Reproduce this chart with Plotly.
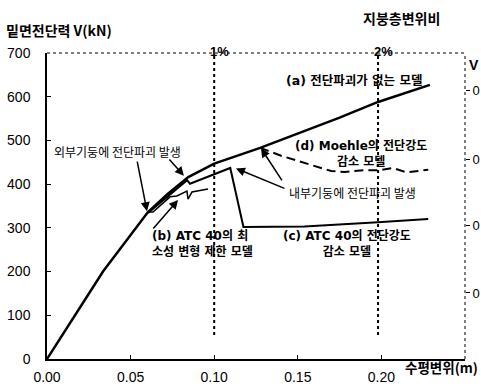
import plotly.graph_objects as go

# ---- data ----
# (a) model without shear failure
a_x = [0.0, 0.0168, 0.0335, 0.0604, 0.072, 0.0845, 0.100, 0.1275, 0.150, 0.175, 0.198, 0.229]
a_y = [0, 100, 200, 336, 377, 416, 447, 483, 516, 552, 588, 627]
# (b) ATC 40 minimum plastic deformation limit model
b_x = [0.0604, 0.0634, 0.0736, 0.0777, 0.0837, 0.0843, 0.0867, 0.0963]
b_y = [336, 336, 371, 373, 384, 366, 382, 389]
# (c) ATC 40 shear strength degradation model
c_x = [0.0604, 0.0838, 0.0855, 0.1096, 0.1175, 0.130, 0.154, 0.198, 0.228]
c_y = [334, 409, 401, 437, 302, 302, 303, 313, 320]
# (d) Moehle shear strength degradation model
d_x = [0.1275, 0.140, 0.157, 0.170, 0.178, 0.190, 0.199, 0.207, 0.215, 0.228]
d_y = [483, 465, 445, 430, 428, 432, 432, 437, 427, 433]

drift_x = [0.100, 0.198]
drift_labels = ["1%", "2%"]
drift_y = [55, 700]

y_ticks = [0, 100, 200, 300, 400, 500, 600, 700]
x_ticks = [0.00, 0.05, 0.10, 0.15, 0.20]
right_ticks = [151, 305, 456, 614]
right_labels = ["0", "0", "0", "0"]

KR = "Noto Sans CJK KR"
MIX = "DejaVu Sans, Noto Sans CJK KR"
LAT = "Liberation Sans"

fig = go.Figure()

for xv in drift_x:
    fig.add_trace(go.Scatter(x=[xv, xv], y=drift_y, mode="lines",
                             line=dict(color="black", width=2, dash="dot"),
                             showlegend=False, hoverinfo="skip"))

fig.add_trace(go.Scatter(x=b_x, y=b_y, mode="lines",
                         line=dict(color="black", width=1.5), showlegend=False))
fig.add_trace(go.Scatter(x=c_x, y=c_y, mode="lines",
                         line=dict(color="black", width=2), showlegend=False))
fig.add_trace(go.Scatter(x=d_x, y=d_y, mode="lines",
                         line=dict(color="black", width=2, dash="9px,5px"), showlegend=False))
fig.add_trace(go.Scatter(x=a_x, y=a_y, mode="lines",
                         line=dict(color="black", width=2.5), showlegend=False))
fig.add_trace(go.Scatter(x=[0.0], y=[0], yaxis="y2", mode="markers",
                         marker=dict(opacity=0), showlegend=False, hoverinfo="skip"))

anns = []

def txt(x, y, s, size=12, bold=True, xanchor="center", family=MIX, align="center"):
    anns.append(dict(x=x, y=y, xref="x", yref="y", text=f"<b>{s}</b>" if bold else s,
                     showarrow=False, xanchor=xanchor, yanchor="middle", align=align,
                     font=dict(family=family, size=size, color="black")))

def arrow(x, y, ax, ay):
    anns.append(dict(x=x, y=y, ax=ax, ay=ay, xref="x", yref="y", axref="x", ayref="y",
                     text="", showarrow=True, arrowhead=2, arrowsize=1.2,
                     arrowwidth=1.5, arrowcolor="black"))

txt(0.1836, 638, "(a) 전단파괴가 없는 모델", size=12.5)
txt(0.1875, 470, "(d) Moehle의 전단강도<br>감소 모델")
txt(0.183, 382, "내부기둥에 전단파괴 발생", bold=False, family=KR)
txt(0.0419, 474, "외부기둥에 전단파괴 발생", bold=False, family=KR)
txt(0.0616, 262, "(b) ATC 40의 최<br>소성 변형 제한 모델", xanchor="left", align="left")
txt(0.1794, 263, "(c) ATC 40의 전단강도<br>감소 모델")

arrow(0.0598, 338, 0.0538, 455)
arrow(0.0819, 419, 0.0724, 460)
arrow(0.0784, 364, 0.0628, 295)
arrow(0.1280, 482, 0.1411, 405)
arrow(0.1130, 436, 0.1429, 389)

for xv, lab in zip(drift_x, drift_labels):
    anns.append(dict(x=xv, y=1.036, xref="x", yref="paper", text=f"<b>{lab}</b>",
                     showarrow=False, xshift=5, font=dict(family=LAT, size=13, color="black")))

anns.append(dict(x=0.847, y=1.115, xref="paper", yref="paper", text="<b>지붕층변위비</b>",
                 showarrow=False, xanchor="center", yanchor="middle",
                 font=dict(family=KR, size=14, color="black")))
anns.append(dict(x=-0.102, y=1.074, xref="paper", yref="paper", text="<b>밑면전단력 V(kN)</b>",
                 showarrow=False, xanchor="left", yanchor="middle",
                 font=dict(family=KR, size=14, color="black")))
anns.append(dict(x=0.852, y=-0.025, xref="paper", yref="paper", text="<b>수평변위(m)</b>",
                 showarrow=False, xanchor="left", yanchor="middle",
                 font=dict(family=KR, size=13.5, color="black")))
anns.append(dict(x=1.004, y=0.961, xref="paper", yref="paper", text="<b>V</b>",
                 showarrow=False, xanchor="left", yanchor="middle",
                 font=dict(family=LAT, size=14, color="black")))

shapes = [
    dict(type="line", xref="paper", yref="paper", x0=0, x1=1, y0=1, y1=1,
         line=dict(color="black", width=1, dash="dot")),
    dict(type="line", xref="paper", yref="paper", x0=1, x1=1, y0=0, y1=1,
         line=dict(color="black", width=1, dash="dot")),
]

fig.update_layout(
    width=481, height=391,
    margin=dict(l=47, r=16, t=53, b=32, autoexpand=False),
    paper_bgcolor="white", plot_bgcolor="white",
    annotations=anns, shapes=shapes,
    xaxis=dict(range=[0, 0.25], tickvals=x_ticks, tickformat=".2f",
               showline=True, linecolor="black", linewidth=1.5,
               ticks="inside", ticklen=4, tickcolor="black", automargin=False,
               showgrid=False, zeroline=False, ticklabelstandoff=4,
               tickfont=dict(family=LAT, size=14, color="black")),
    yaxis=dict(range=[0, 700], tickvals=y_ticks,
               showline=True, linecolor="black", linewidth=1.5,
               ticks="inside", ticklen=4, tickcolor="black", automargin=False,
               showgrid=False, zeroline=False, ticklabelstandoff=12,
               tickfont=dict(family=LAT, size=14, color="black")),
    yaxis2=dict(range=[0, 700], overlaying="y", side="right",
                tickvals=right_ticks, ticktext=right_labels, automargin=False,
                ticks="outside", ticklen=4, tickcolor="black",
                showline=False, showgrid=False, zeroline=False,
                tickfont=dict(family=LAT, size=13, color="black")),
)

fig.write_html("out.html")
